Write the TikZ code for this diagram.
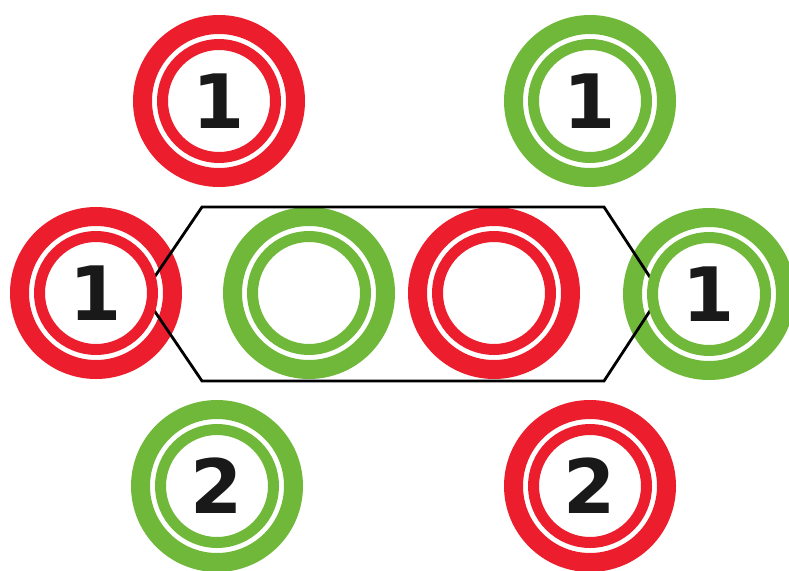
\documentclass[tikz,border=0pt]{standalone}
\usepackage{fontspec}
\newfontfamily\numfont{DejaVu Sans}
\definecolor{ringred}{RGB}{236,30,45}
\definecolor{ringgreen}{RGB}{112,184,58}
\tikzset{
  outerring/.style={circle, draw=#1, line width=19pt, minimum size=153pt, inner sep=0pt},
  innerring/.style={circle, draw=#1, fill=white, line width=11pt, minimum size=113pt, inner sep=0pt,
    font=\numfont\bfseries\fontsize{75}{75}\selectfont, text=black!90},
  hexline/.style={draw=black, line width=2.8pt, line join=miter}
}
\begin{document}
\begin{tikzpicture}[x=1pt,y=-1pt]
\useasboundingbox (0,0) rectangle (789,570);
% outer rings
\node[outerring=ringred]   (tlo) at (219,101) {};
\node[outerring=ringgreen] (tro) at (590,101) {};
\node[outerring=ringred]   (mlo) at (96,293) {};
\node[outerring=ringgreen] (mgo) at (309,293) {};
\node[outerring=ringred]   (mro) at (494,293) {};
\node[outerring=ringgreen] (rgo) at (709,294) {};
\node[outerring=ringgreen] (blo) at (217,486) {};
\node[outerring=ringred]   (bro) at (590,486) {};
% hexagon frame
\coordinate (h1) at (202,207);
\coordinate (h2) at (604,207);
\coordinate (h3) at (661,294);
\coordinate (h4) at (604,381);
\coordinate (h5) at (202,381);
\coordinate (h6) at (143,294);
\draw[hexline] (h1) -- (h2) -- (h3) -- (h4) -- (h5) -- (h6) -- cycle;
% inner rings with numbers
\node[innerring=ringred]   (tl) at (tlo) {1};
\node[innerring=ringgreen] (tr) at (tro) {1};
\node[innerring=ringred]   (ml) at (mlo) {1};
\node[innerring=ringgreen] (mg) at (mgo) {};
\node[innerring=ringred]   (mr) at (mro) {};
\node[innerring=ringgreen] (rg) at (rgo) {1};
\node[innerring=ringgreen] (bl) at (blo) {2};
\node[innerring=ringred]   (br) at (bro) {2};
\end{tikzpicture}
\end{document}
